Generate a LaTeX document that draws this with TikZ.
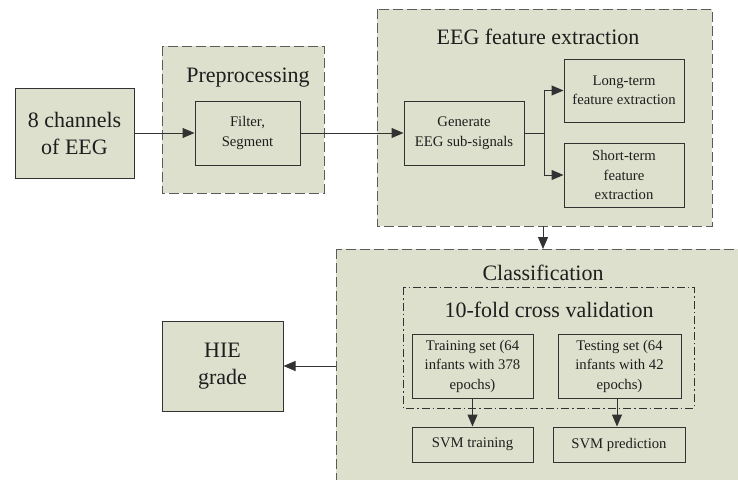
\documentclass[tikz,border=0pt]{standalone}
\usepackage{fontspec}
\setmainfont{Liberation Serif}
\usetikzlibrary{arrows.meta}
\definecolor{boxfill}{RGB}{221,224,204}
\definecolor{linec}{RGB}{50,50,50}
\definecolor{textc}{RGB}{30,30,30}
\begin{document}
\begin{tikzpicture}[x=1pt,y=-1pt,
  every node/.style={text=textc},
  groupbox/.style={draw=linec!80, fill=boxfill, line width=1pt, dash pattern=on 10pt off 4pt},
  cvbox/.style={draw=linec, line width=0.9pt, dash pattern=on 8pt off 3pt on 1.5pt off 3pt},
  procbox/.style={draw=linec, fill=boxfill, line width=1pt, align=center, font=\fontsize{14.7}{19.5}\selectfont, inner sep=0pt},
  bigbox/.style={draw=linec, fill=boxfill, line width=1pt, align=center, font=\fontsize{22}{27}\selectfont, inner sep=0pt},
  title/.style={font=\fontsize{22}{26}\selectfont, inner sep=0pt},
  arr/.style={draw=linec, line width=1pt, -{Triangle[length=12pt,width=10pt]}},
  ln/.style={draw=linec, line width=1pt}
]
\useasboundingbox (0,0) rectangle (738,479);
% group boxes
\draw[groupbox] (162,46) rectangle (324,193);
\draw[groupbox] (377,9) rectangle (712,226);
\draw[groupbox] (336,249) rectangle (760,500);
\draw[cvbox] (403,287) rectangle (694,408);
% titles
\node[title] (tprep) at (248,78) {Preprocessing};
\node[title] (tfeat) at (538,37) {EEG feature extraction};
\node[title] (tclass) at (543,273) {Classification};
\node[title] (tcv) at (549,310) {10-fold cross validation};
% nodes
\node[bigbox, minimum width=119pt, minimum height=90pt] (ch) at (74.5,133) {8 channels\\of EEG};
\node[procbox, minimum width=105pt, minimum height=64pt] (filt) at (247.5,133) {Filter,\\Segment};
\node[procbox, minimum width=120pt, minimum height=64pt] (gen) at (464,133) {Generate\\EEG sub-signals};
\node[procbox, minimum width=120pt, minimum height=63pt] (long) at (624,90.5) {Long-term\\feature extraction};
\node[procbox, minimum width=120pt, minimum height=64pt] (short) at (624,175) {Short-term\\feature\\extraction};
\node[procbox, minimum width=121pt, minimum height=64pt] (train) at (472.5,366) {Training set (64\\infants with 378\\epochs)};
\node[procbox, minimum width=123pt, minimum height=64pt] (test) at (619.5,366) {Testing set (64\\infants with 42\\epochs)};
\node[procbox, minimum width=121pt, minimum height=35pt] (svmt) at (472.5,444.5) {SVM training};
\node[procbox, minimum width=132pt, minimum height=35pt] (svmp) at (619,444.5) {SVM prediction};
\node[bigbox, minimum width=121pt, minimum height=90pt] (hie) at (222.5,366) {HIE\\grade};
% coordinates
\coordinate (br) at (544,133);
\coordinate (featbot) at (543,226);
\coordinate (classtop) at (543,249);
\coordinate (classleft) at (336,366);
% connectors
\draw[arr] (ch.east) -- (filt.west);
\draw[arr] (filt.east) -- (gen.west);
\draw[ln] (gen.east) -- (br);
\draw[arr] (br) |- (long.west);
\draw[arr] (br) |- (short.west);
\draw[arr] (featbot) -- (classtop);
\draw[arr] (classleft) -- (hie.east);
\draw[arr] (train.south) -- (svmt.north);
\draw[arr] (test.south -| 617,0) -- (svmp.north -| 617,0);
\end{tikzpicture}
\end{document}
